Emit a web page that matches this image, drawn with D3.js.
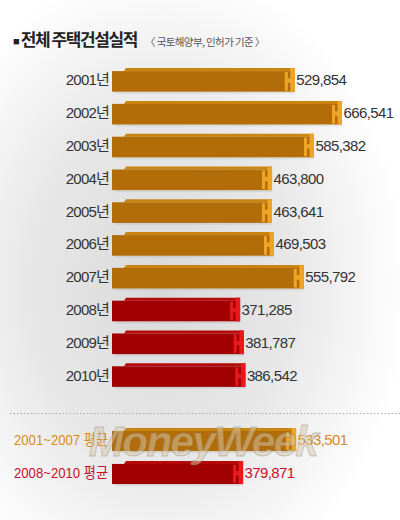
<!DOCTYPE html>
<html>
<head>
<meta charset="utf-8">
<script src="https://cdn.jsdelivr.net/npm/d3@7"></script>
<style>
  html, body { margin: 0; padding: 0; background: #fff; }
  svg { display: block; }
  text { font-family: "Liberation Sans Narrow", "Liberation Sans", "Noto Sans CJK KR", sans-serif; }
</style>
</head>
<body>
<svg id="chart" width="400" height="520"></svg>
<script>
// yearly housing construction (permits), units
const years = ["2001년", "2002년", "2003년", "2004년", "2005년", "2006년", "2007년", "2008년", "2009년", "2010년"];
const units = [529854, 666541, 585382, 463800, 463641, 469503, 555792, 371285, 381787, 386542];
const period = ["a", "a", "a", "a", "a", "a", "a", "b", "b", "b"];

const avgLabels = ["2001~2007 평균", "2008~2010 평균"];
const avgValues = [533501, 379871];
const avgPeriod = ["a", "b"];

const palette = {
  a: { face: "#b26c08", top: "#c98512", cap: "#f0a426", text: "#d98a1d" },
  b: { face: "#a00000", top: "#b40a0a", cap: "#e8181c", text: "#c8102e" }
};

const svg = d3.select("#chart");
const W = 400, H = 520;
const fmt = d3.format(",");

// background wash
const defs = svg.append("defs");
const grad = defs.append("radialGradient").attr("id", "bg")
  .attr("cx", "40%").attr("cy", "55%").attr("r", "62%");
grad.append("stop").attr("offset", "0%").attr("stop-color", "#d9d9d9");
grad.append("stop").attr("offset", "55%").attr("stop-color", "#e8e8e8");
grad.append("stop").attr("offset", "100%").attr("stop-color", "#ffffff");
svg.append("rect").attr("width", W).attr("height", H).attr("fill", "url(#bg)");

// title
const title = svg.append("text").attr("x", 13).attr("y", 46);
title.append("tspan").attr("font-size", 11).attr("fill", "#222").attr("dy", -1).text("■");
title.append("tspan").attr("font-size", 17).attr("font-weight", "bold").attr("fill", "#222")
  .attr("dy", 1).attr("dx", 1).attr("letter-spacing", -1.4)
  .style("font-family", "'Noto Sans CJK KR', sans-serif").text("전체 주택건설실적");
svg.append("text").attr("x", 145).attr("y", 46).attr("font-size", 10.5).attr("fill", "#555")
  .attr("letter-spacing", -0.6)
  .style("font-family", "'Noto Sans CJK KR', sans-serif")
  .text("〈 국토해양부, 인허가 기준 〉");

const x = d3.scaleLinear().domain([0, d3.max(units)]).range([112, 342]);

const y = d3.scaleBand().domain(years).range([63.5, 391.5])
  .paddingInner(0.28).paddingOuter(0.14);

// one extruded bar with the "H" end cap
function drawBar(g, v, y0, h, c) {
  const x0 = x(0), x1 = x(v);
  const lip = 3;
  g.append("rect").attr("x", x0 + 3).attr("y", y0 + h).attr("width", x1 - x0 - 3).attr("height", 2)
    .attr("fill", "#000").attr("opacity", 0.07);
  g.append("path")
    .attr("d", `M${x0},${y0 + lip}L${x0 + 12},${y0 + lip}L${x0 + 14},${y0}L${x1},${y0}L${x1},${y0 + lip}Z`)
    .attr("fill", c.top);
  g.append("rect").attr("x", x0).attr("y", y0 + lip).attr("width", x1 - x0).attr("height", h - lip)
    .attr("fill", c.face);
  // H cap
  const cx = x1 - 10;
  g.append("rect").attr("x", cx).attr("y", y0 + lip + 1).attr("width", 3).attr("height", h - lip - 2).attr("fill", c.cap);
  g.append("rect").attr("x", x1 - 4.5).attr("y", y0).attr("width", 4.5).attr("height", h).attr("fill", c.cap);
  g.append("rect").attr("x", cx).attr("y", y0 + h / 2 - 1.5).attr("width", 10).attr("height", 4.5).attr("fill", c.cap);
}

const rows = svg.append("g");
years.forEach((yr, i) => {
  const c = palette[period[i]];
  const y0 = y(yr), h = y.bandwidth();
  const g = rows.append("g");
  g.append("text").attr("x", 109).attr("y", y0 + h / 2 + 5.5).attr("text-anchor", "end")
    .attr("font-size", 15).attr("fill", "#333").attr("letter-spacing", -0.8).text(yr);
  drawBar(g, units[i], y0, h, c);
  g.append("text").attr("x", x(units[i]) + 1.5).attr("y", y0 + h / 2 + 5.5)
    .attr("font-size", 15).attr("fill", "#333").attr("letter-spacing", -0.6).text(fmt(units[i]));
});

// separator
svg.append("line").attr("x1", 10).attr("x2", W).attr("y1", 413.5).attr("y2", 413.5)
  .attr("stroke", "#aaa").attr("stroke-width", 1).attr("stroke-dasharray", "1.5,2");

const ya = d3.scaleBand().domain(avgLabels).range([424, 488]).paddingInner(0.3).paddingOuter(0.12);

avgLabels.forEach((lb, i) => {
  const c = palette[avgPeriod[i]];
  const y0 = ya(lb), h = ya.bandwidth();
  const g = svg.append("g");
  g.append("text").attr("x", 14).attr("y", y0 + h / 2 + 5.5).attr("font-size", 15)
    .attr("fill", c.text).attr("textLength", 94).attr("lengthAdjust", "spacingAndGlyphs").text(lb);
  drawBar(g, avgValues[i], y0, h, c);
  g.append("text").attr("x", x(avgValues[i]) + 1.5).attr("y", y0 + h / 2 + 5.5)
    .attr("font-size", 15).attr("fill", c.text).attr("letter-spacing", -0.6).text(fmt(avgValues[i]));
});

// watermark
svg.append("text").attr("x", 203).attr("y", 456).attr("text-anchor", "middle")
  .attr("font-size", 42).attr("font-weight", "bold").attr("font-style", "italic")
  .attr("letter-spacing", -1.5)
  .style("font-family", "'Liberation Sans', sans-serif")
  .attr("fill", "#d8c8a8").attr("fill-opacity", 0.5)
  .attr("stroke", "#777").attr("stroke-opacity", 0.4).attr("stroke-width", 0.8)
  .text("MoneyWeek");
</script>
</body>
</html>
